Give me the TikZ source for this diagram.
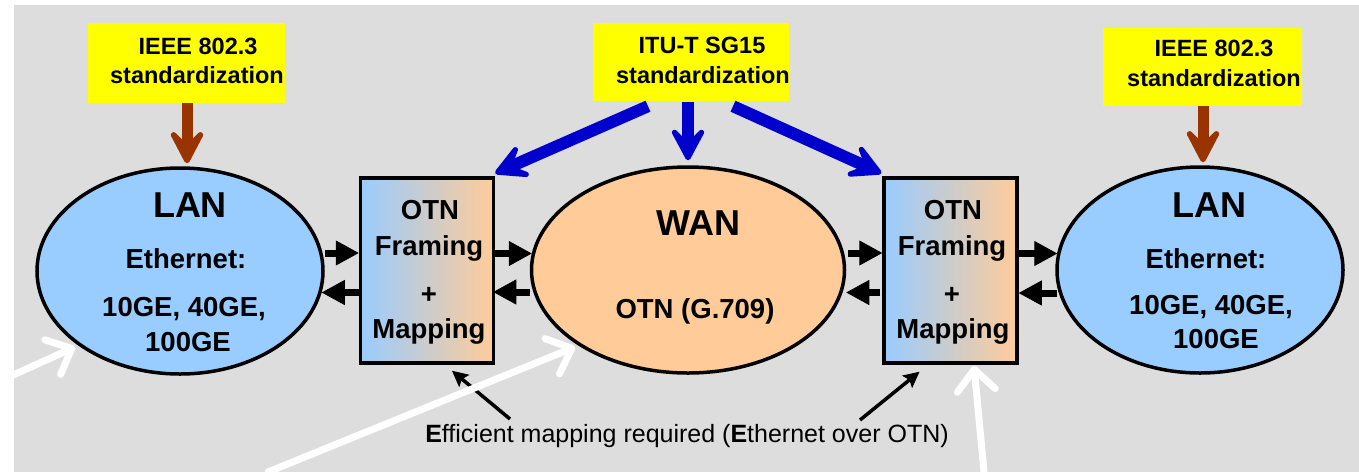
\documentclass[tikz,border=0pt]{standalone}
\usepackage{fontspec}
\setmainfont{Liberation Sans}
\usetikzlibrary{shapes.geometric,arrows.meta}

\definecolor{bggray}{RGB}{221,221,221}
\definecolor{lanblue}{RGB}{153,204,255}
\definecolor{wanpeach}{RGB}{255,204,153}
\definecolor{stdyellow}{RGB}{255,255,0}
\definecolor{ieeebrown}{RGB}{153,51,0}
\definecolor{itublue}{RGB}{0,0,204}

\tikzset{
  lanshape/.style={ellipse, draw=black, line width=3.5pt, fill=lanblue,
    minimum width=286pt, minimum height=206pt, inner sep=0pt},
  wanshape/.style={ellipse, draw=black, line width=3.5pt, fill=wanpeach,
    minimum width=313pt, minimum height=206pt, inner sep=0pt},
  otnbox/.style={rectangle, draw=black, line width=3.5pt,
    left color=lanblue, right color=wanpeach,
    minimum width=133pt, minimum height=185pt, inner sep=0pt},
  stdbox/.style={rectangle, fill=stdyellow, inner sep=0pt},
  bigtxt/.style={font=\bfseries\fontsize{36}{40}\selectfont, inner sep=0pt, anchor=base},
  midtxt/.style={font=\bfseries\fontsize{27.5}{30}\selectfont, inner sep=0pt, anchor=base},
  stdtxt/.style={font=\bfseries\fontsize{23.5}{27}\selectfont, inner sep=0pt, anchor=base},
  notetxt/.style={font=\fontsize{25}{28}\selectfont, inner sep=0pt, anchor=base},
  flow/.style={line width=7pt, -{Triangle[length=23pt,width=25pt,line width=1pt]}},
  ieeearrow/.style={draw=ieeebrown, line width=11pt,
    -{Stealth[length=46pt,width=48pt,inset=24pt,line width=13pt,round]}},
  ituarrow/.style={draw=itublue, line width=12pt,
    -{Stealth[length=45pt,width=48pt,inset=24pt,line width=13pt,round]}},
  pointer/.style={line width=3.5pt, -{Stealth[length=16pt,width=16pt,inset=3pt,line width=1pt]}},
  remark/.style={draw=white, line width=7pt, line cap=round,
    -{Straight Barb[length=21pt,width=38pt,round]}},
}

\begin{document}
\begin{tikzpicture}[x=1pt,y=-1pt]
  \useasboundingbox (0,0) rectangle (1359,472);
  \fill[white] (0,0) rectangle (1359,472);
  \fill[bggray] (14,5) rectangle (1359,472);

  % standardization bodies
  \node[stdbox, minimum width=197pt, minimum height=80pt] (ieeeL) at (186.5,63) {};
  \node[stdtxt] (ieeeL1) at (198,54) {IEEE 802.3};
  \node[stdtxt] (ieeeL2) at (197,83) {standardization};

  \node[stdbox, minimum width=196pt, minimum height=78pt] (itu) at (691,62) {};
  \node[stdtxt] (itu1) at (702,53) {ITU-T SG15};
  \node[stdtxt] (itu2) at (703,83) {standardization};

  \node[stdbox, minimum width=199pt, minimum height=78pt] (ieeeR) at (1202.5,67) {};
  \node[stdtxt] (ieeeR1) at (1214,56) {IEEE 802.3};
  \node[stdtxt] (ieeeR2) at (1214,86) {standardization};

  % networks
  \node[lanshape] (lanL) at (180,271) {};
  \node[bigtxt] at (190,217) {LAN};
  \node[midtxt] at (186,268) {Ethernet:};
  \node[midtxt] at (184,316) {10GE, 40GE,};
  \node[midtxt] at (188,351) {100GE};

  \node[wanshape] (wan) at (688,270) {};
  \node[bigtxt] at (698,235) {WAN};
  \node[midtxt] at (695,318) {OTN (G.709)};

  \node[lanshape] (lanR) at (1200,270) {};
  \node[bigtxt] at (1209,217) {LAN};
  \node[midtxt] at (1206,268) {Ethernet:};
  \node[midtxt] at (1211,314) {10GE, 40GE,};
  \node[midtxt] at (1216,348) {100GE};

  % OTN framing and mapping stages
  \node[otnbox] (boxL) at (427,270.5) {};
  \node[midtxt] at (430,219) {OTN};
  \node[midtxt] at (429,255) {Framing};
  \node[midtxt] at (429,303) {+};
  \node[midtxt] at (429,338) {Mapping};

  \node[otnbox] (boxR) at (950.5,270.5) {};
  \node[midtxt] at (953,219) {OTN};
  \node[midtxt] at (952,255) {Framing};
  \node[midtxt] at (952,303) {+};
  \node[midtxt] at (953,338) {Mapping};

  % data flow in both directions
  \draw[flow] ([yshift=18pt]lanL.east) -- ([yshift=18pt]lanL.east -| boxL.west);
  \draw[flow, shorten >=-3pt] ([yshift=-22pt]boxL.west) -- ([yshift=-22pt]boxL.west -| lanL.east);
  \draw[flow, shorten >=-2pt] ([yshift=17pt]boxL.east) -- ([yshift=17pt]boxL.east -| wan.west);
  \draw[flow, shorten >=-2pt] ([yshift=-22pt]wan.west) -- ([yshift=-22pt]wan.west -| boxL.east);
  \draw[flow, shorten <=2pt] ([yshift=17pt]wan.east) -- ([yshift=17pt]wan.east -| boxR.west);
  \draw[flow, shorten <=2pt] ([yshift=-22pt]boxR.west) -- ([yshift=-22pt]boxR.west -| wan.east);
  \draw[flow, shorten >=-2pt] ([yshift=17pt]boxR.east) -- ([yshift=17pt]boxR.east -| lanR.west);
  \draw[flow, shorten <=-2pt] ([yshift=-23pt]lanR.west) -- ([yshift=-23pt]lanR.west -| boxR.east);

  % standardization scope
  \draw[ieeearrow] ([xshift=0.5pt]ieeeL.south) -- ([xshift=0.5pt,yshift=3pt]ieeeL.south |- lanL.north);
  \draw[ieeearrow] ([xshift=0.5pt]ieeeR.south) -- ([xshift=0.5pt,yshift=3pt]ieeeR.south |- lanR.north);
  \draw[ituarrow] ([yshift=-1pt]itu.south -| wan.north) -- ([yshift=5pt]wan.north);
  \draw[ituarrow] ([xshift=-43pt,yshift=-5pt]itu.south) -- ([yshift=3pt]boxL.north east);
  \draw[ituarrow] ([xshift=42pt,yshift=-5pt]itu.south) -- ([xshift=-1pt,yshift=3pt]boxR.north west);

  % note on the mapping
  \node[notetxt] (note) at (687,442)
    {\textbf{E}fficient mapping required (\textbf{E}thernet over OTN)};
  \coordinate (noteL) at (510,419);
  \coordinate (noteR) at (860,420);
  \draw[pointer] (noteL) -- ([xshift=25pt,yshift=-6pt]boxL.south);
  \draw[pointer] (noteR) -- ([xshift=-31pt,yshift=-7pt]boxR.south);

  % remarks
  \coordinate (remA) at (0,381);
  \coordinate (remAtip) at (75,347);
  \coordinate (remB) at (268,472);
  \coordinate (remBtip) at (575,347);
  \coordinate (remC) at (984,472);
  \coordinate (remCtip) at (974,366);
  \draw[remark] (remA) -- (remAtip);
  \draw[remark] (remB) -- (remBtip);
  \draw[remark] (remC) -- (remCtip);
\end{tikzpicture}
\end{document}
